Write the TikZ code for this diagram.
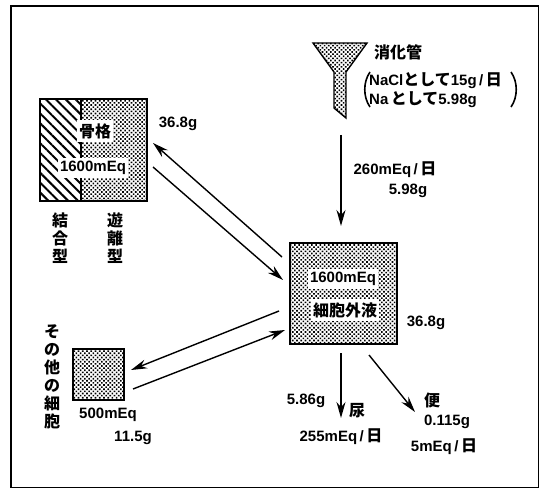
\documentclass[tikz,border=0pt]{standalone}
\usepackage{fontspec}
\setmainfont{Liberation Sans}
\newfontfamily\cjk{Noto Sans CJK JP}
\usetikzlibrary{arrows.meta, patterns.meta}
\newcommand{\jp}[1]{{\cjk\fontsize{16}{17}\selectfont\bfseries #1}}

\begin{document}
\begin{tikzpicture}[
  x=1pt, y=-1pt,
  font=\fontsize{15}{17}\selectfont\bfseries, >={Stealth[length=16pt, width=9pt]},
  dotted box/.style={rectangle, draw, line width=1.7pt, inner sep=0pt,
                     pattern={Dots[distance=3pt, radius=1.15pt, angle=45]}},
  hatched box/.style={rectangle, draw, line width=1.7pt, inner sep=0pt,
                      pattern={Lines[angle=-45, distance=7pt, line width=2pt]}},
  whitelabel/.style={inner xsep=2pt, inner ysep=3pt, fill=white},
  plain/.style={inner sep=0pt},
  flow/.style={->, line width=1.4pt},
  paren/.style={line width=1.6pt},
]
\useasboundingbox (0,0) rectangle (540,489);
\draw[line width=1.8pt] (11,6) rectangle (538.5,487.5);

% skeleton
\node[hatched box, minimum width=41pt, minimum height=102pt] (bound) at (60.5,150) {};
\node[dotted box, minimum width=66pt, minimum height=102pt] (free) at (114,150) {};
\node[whitelabel] (bonetext) at (95,131) {\jp{骨格}};
\node[whitelabel] (bonemeq)  at (93,168) {1600mEq};
\node[plain] (boneg)    at (178,124) {36.8g};
\node[plain, align=center] (boundtext) at (60,238) {\jp{結}\\[1pt]\jp{合}\\[1pt]\jp{型}};
\node[plain, align=center] (freetext)  at (115,238) {\jp{遊}\\[1pt]\jp{離}\\[1pt]\jp{型}};

% extracellular fluid
\node[dotted box, minimum width=107pt, minimum height=101pt] (fluid) at (343.5,293.5) {};
\node[whitelabel] (fluidmeq)  at (343,279) {1600mEq};
\node[whitelabel] (fluidtext) at (345,310) {\jp{細胞外液}};
\node[plain] (fluidg)    at (426,323) {36.8g};

% other cells
\node[dotted box, minimum width=51pt, minimum height=51pt] (cells) at (98.5,374.5) {};
\node[plain, align=center] (cellstext) at (52,377) {\jp{そ}\\[1pt]\jp{の}\\[1pt]\jp{他}\\[1pt]\jp{の}\\[1pt]\jp{細}\\[1pt]\jp{胞}};
\node[plain] (cellsmeq) at (108,415) {500mEq};
\node[plain] (cellsg)   at (133,438) {11.5g};

% digestive tract
\draw[line width=1.4pt, pattern={Dots[distance=3pt, radius=1.15pt, angle=45]}]
  (313,43) -- (367,43) -- (346,72) -- (346,118) -- (334,108) -- (334,72) -- cycle;
\node[plain] (guttext) at (398,52) {\jp{消化管}};
\node[plain, anchor=west] (salt) at (369,81) {NaCl\jp{として}15g\,/\,\jp{日}};
\node[plain, anchor=west] (sodium) at (369,100) {Na\,\jp{として}5.98g};
\coordinate (lefttop)  at (370,72);
\coordinate (leftbot)  at (370,107);
\coordinate (righttop) at (511,72);
\coordinate (rightbot) at (511,107);
\draw[paren] (lefttop) .. controls (363,82) and (363,97) .. (leftbot);
\draw[paren] (righttop) .. controls (518,82) and (518,97) .. (rightbot);
\node[plain] (inmeq) at (395,170) {260mEq\,/\,\jp{日}};
\node[plain] (ing)   at (408,191) {5.98g};

% output labels
\node[plain] (urineg)   at (306,401) {5.86g};
\node[plain] (urine)    at (357,411) {\jp{尿}};
\node[plain] (urinemeq) at (341,437) {255mEq\,/\,\jp{日}};
\node[plain] (stool)    at (432,400) {\jp{便}};
\node[plain] (stoolg)   at (447,422) {0.115g};
\node[plain] (stoolmeq) at (444,447) {5mEq\,/\,\jp{日}};

% free ends of the arrows
\coordinate (gutend)    at (341,135);
\coordinate (fluidtop)  at (341,226);
\coordinate (boneout)   at (282,257);
\coordinate (bonehead)  at (153,143);
\coordinate (bonein)    at (153,167);
\coordinate (fluidhead) at (283,280);
\coordinate (cellout)   at (279,311);
\coordinate (cellhead)  at (131,370);
\coordinate (cellin)    at (133,389);
\coordinate (backhead)  at (285,330);
\coordinate (urineout)  at (341,353);
\coordinate (urinehead) at (341,418);
\coordinate (stoolout)  at (369,355);
\coordinate (stoolhead) at (415,412);

\draw[flow] (gutend) -- (fluidtop);
\draw[flow] (boneout) -- (bonehead);
\draw[flow] (bonein) -- (fluidhead);
\draw[flow] (cellout) -- (cellhead);
\draw[flow] (cellin) -- (backhead);
\draw[flow] (urineout) -- (urinehead);
\draw[flow] (stoolout) -- (stoolhead);
\end{tikzpicture}
\end{document}
